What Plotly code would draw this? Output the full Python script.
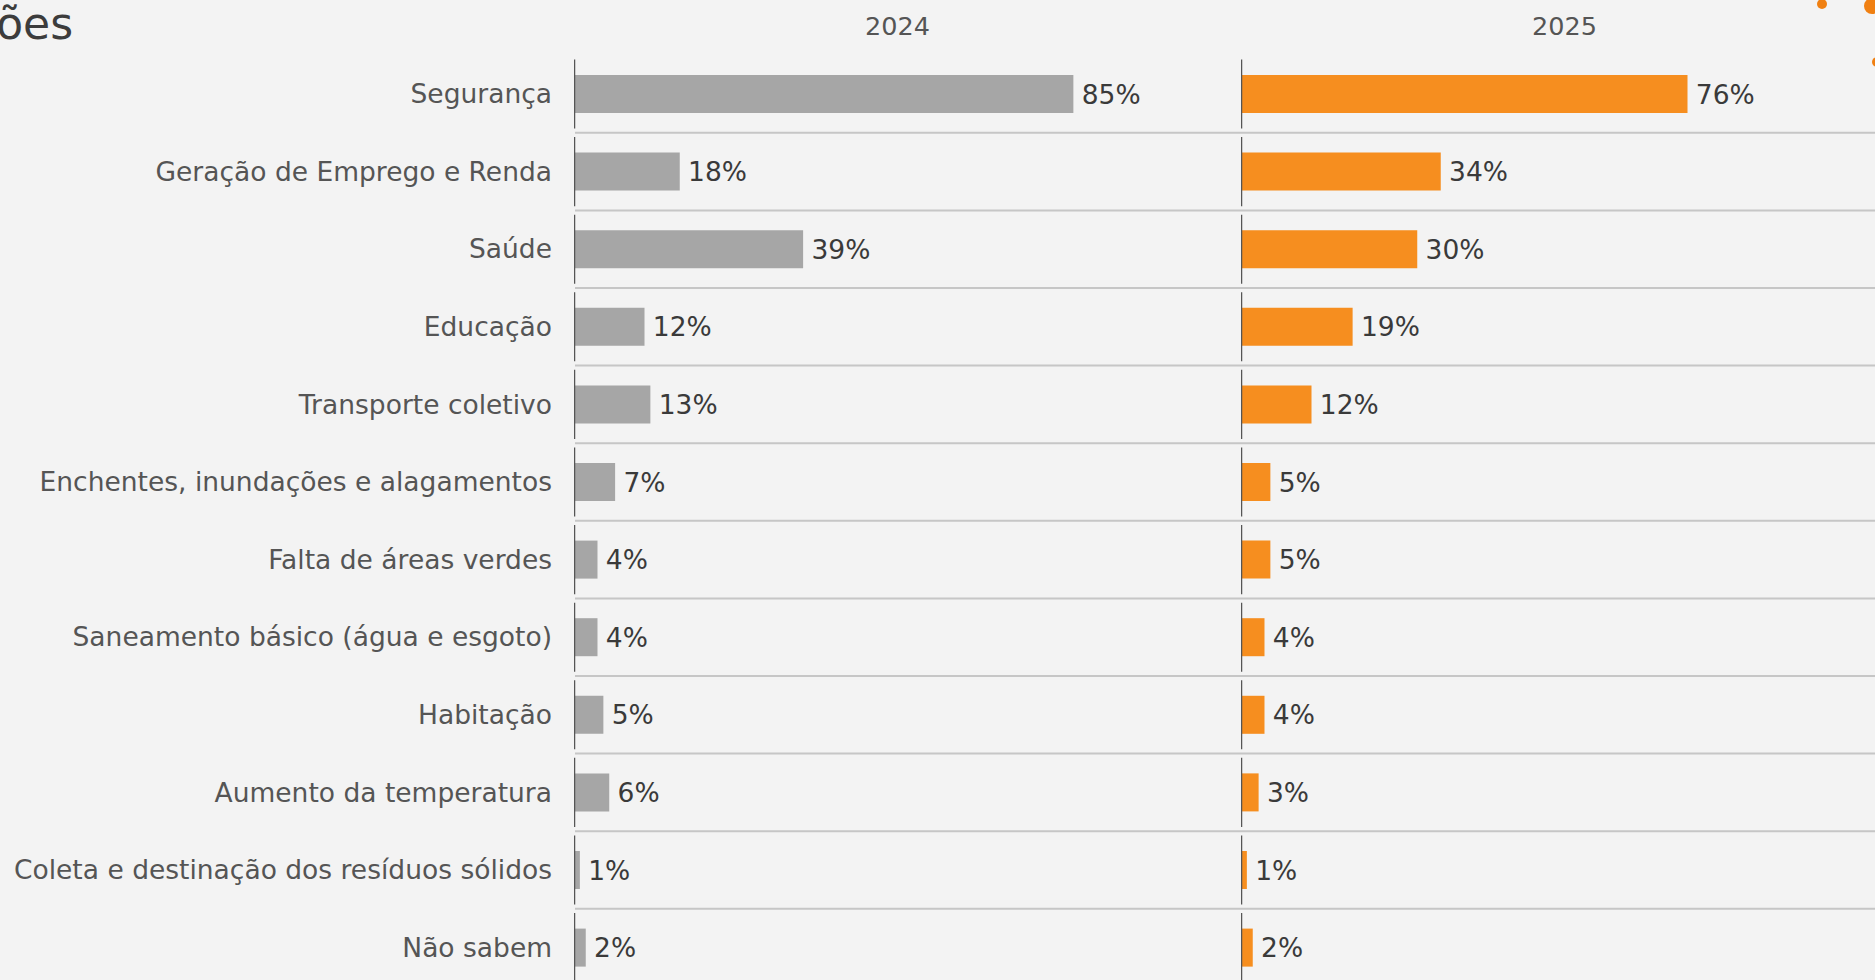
import plotly.graph_objects as go

# ---- data ----
categories = [
    "Segurança",
    "Geração de Emprego e Renda",
    "Saúde",
    "Educação",
    "Transporte coletivo",
    "Enchentes, inundações e alagamentos",
    "Falta de áreas verdes",
    "Saneamento básico (água e esgoto)",
    "Habitação",
    "Aumento da temperatura",
    "Coleta e destinação dos resíduos sólidos",
    "Não sabem",
]
values_2024 = [85, 18, 39, 12, 13, 7, 4, 4, 5, 6, 1, 2]
values_2025 = [76, 34, 30, 19, 12, 5, 5, 4, 4, 3, 1, 2]
panel_titles = ["2024", "2025"]
title_text = "ções"

# ---- layout constants (pixels of a 1875x980 canvas) ----
W, H = 1875, 980
PX_PER_PCT = 5.875
X1_LEFT, X2_LEFT = 574, 1241
PANEL_W = 646
ROW_PITCH = 77.6
TOP_EDGE = 55.2

GRAY = "#a6a6a6"
ORANGE = "#f68e1f"
AXIS_COL = "#555555"
SEP_COL = "#c6c6c6"
FONT = "DejaVu Sans"
LABEL_SIZE = 26.5

n = len(categories)
y_bottom = (H - TOP_EDGE) / ROW_PITCH - 0.5
x1_range = PANEL_W / PX_PER_PCT
x2_range = (W - X2_LEFT) / PX_PER_PCT
panel_center = x1_range / 2

fig = go.Figure()
fig.add_trace(go.Bar(
    y=categories, x=values_2024, orientation="h", xaxis="x", yaxis="y",
    marker=dict(color=GRAY, line=dict(width=0)), width=0.49,
    texttemplate="\u2009%{x}%", textposition="outside", cliponaxis=False,
    textfont=dict(family=FONT, size=LABEL_SIZE, color="#3a3a3a"),
    hoverinfo="skip", showlegend=False,
))
fig.add_trace(go.Bar(
    y=categories, x=values_2025, orientation="h", xaxis="x2", yaxis="y",
    marker=dict(color=ORANGE, line=dict(width=0)), width=0.49,
    texttemplate="\u2009%{x}%", textposition="outside", cliponaxis=False,
    textfont=dict(family=FONT, size=LABEL_SIZE, color="#3a3a3a"),
    hoverinfo="skip", showlegend=False,
))

shapes = []
# per-row axis line segments
for i in range(n):
    for xr in ("x", "x2"):
        shapes.append(dict(type="line", xref=xr, yref="y", x0=0, x1=0,
                           y0=i - 0.445, y1=i + 0.445,
                           line=dict(color=AXIS_COL, width=2.5)))
# row separators
for i in range(n - 1):
    shapes.append(dict(type="line", xref="paper", yref="y",
                       x0=(X1_LEFT + 1) / W, x1=1, y0=i + 0.5, y1=i + 0.5,
                       line=dict(color=SEP_COL, width=2)))
# decorative logo dots (cut off at the top right)
for cx, cy, r in [(1822, 4, 5), (1872, 6, 8), (1877, 62, 5)]:
    shapes.append(dict(type="circle", xref="paper", yref="paper",
                       x0=(cx - r) / W, x1=(cx + r) / W,
                       y0=1 - (cy + r) / H, y1=1 - (cy - r) / H,
                       fillcolor="#f08012", line=dict(width=0)))

annotations = [
    dict(text=panel_titles[0], xref="x", yref="paper", x=panel_center,
         y=1 - 26 / H, showarrow=False, xanchor="center", yanchor="middle",
         font=dict(family=FONT, size=25.5, color="#555555")),
    dict(text=panel_titles[1], xref="x2", yref="paper", x=panel_center,
         y=1 - 26 / H, showarrow=False, xanchor="center", yanchor="middle",
         font=dict(family=FONT, size=25.5, color="#555555")),
    dict(text=title_text, xref="paper", yref="paper", x=75 / W,
         y=1 - 24 / H, showarrow=False, xanchor="right", yanchor="middle",
         font=dict(family=FONT, size=44, color="#3c3c3c")),
]

fig.update_layout(
    width=W, height=H,
    margin=dict(l=0, r=0, t=0, b=0, pad=0),
    paper_bgcolor="#f3f3f3", plot_bgcolor="rgba(0,0,0,0)",
    bargap=0.5,
    xaxis=dict(domain=[X1_LEFT / W, (X1_LEFT + PANEL_W) / W], range=[0, x1_range],
               showgrid=False, zeroline=False, showticklabels=False, showline=False,
               fixedrange=True),
    xaxis2=dict(domain=[X2_LEFT / W, 1.0], range=[0, x2_range], anchor="y",
                showgrid=False, zeroline=False, showticklabels=False, showline=False,
                fixedrange=True),
    yaxis=dict(domain=[0, 1 - TOP_EDGE / H], range=[y_bottom, -0.5],
               type="category", showgrid=False, zeroline=False, showline=False,
               ticks="", ticklabelstandoff=21,
               tickfont=dict(family=FONT, size=LABEL_SIZE, color="#555555"),
               fixedrange=True),
    shapes=shapes, annotations=annotations,
    font=dict(family=FONT),
)

fig.write_html(
    "out.html",
    config={"displayModeBar": False},
    post_script="document.body.style.margin='0';"
                "document.body.style.background='#f3f3f3';"
                "document.body.style.overflow='hidden';",
)
